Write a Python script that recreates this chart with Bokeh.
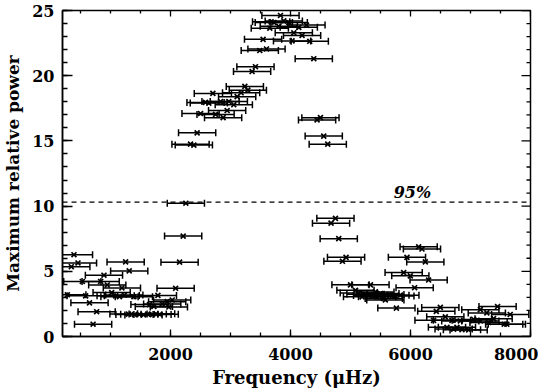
import numpy as np
from bokeh.plotting import figure
from bokeh.models import (ColumnDataSource, Whisker, TeeHead, Span, Label,
                          SingleIntervalTicker, Range1d)
from bokeh.embed import file_html
from bokeh.resources import INLINE

# ---- data ----
# low-frequency branch
freq_a = [391, 458, 347, 1252, 1312, 891, 530, 836, 946, 1190, 280, 586, 1019, 1086,
          1150, 1230, 1390, 1790, 2085, 2028, 1945, 650, 1862, 1723, 1973, 1650, 769,
          710, 2151, 2211, 2256, 1300, 1400, 1480, 1550, 1620, 1700, 1760, 1820]
power_a = [6.27, 5.64, 5.35, 5.72, 5.03, 4.70, 4.22, 4.22, 3.95, 3.72, 3.20, 3.12, 3.37, 3.12,
           3.05, 3.18, 3.05, 3.15, 3.70, 2.80, 2.67, 2.58, 2.50, 2.30, 2.26, 2.45, 1.90,
           0.94, 5.70, 7.70, 10.22, 1.72, 1.68, 1.70, 1.65, 1.72, 1.68, 1.74, 1.70]
err_a = [310] * len(freq_a)

# high-power branch
freq_b = [3833, 3677, 3722, 3888, 3971, 4266, 3655, 3805, 4138, 4055, 4193, 3543, 4026, 4321,
          4388, 3488, 3600, 3416, 3360, 3239, 3289, 2706, 3177, 3111, 2584, 2639, 2834, 2972,
          3055, 2501, 2751, 2944, 2877, 2444, 2334, 2389, 4499, 4443, 4554, 4621]
power_b = [24.62, 24.13, 24.08, 24.20, 24.08, 23.88, 23.64, 23.79, 23.71, 23.29, 23.09, 22.79,
           22.67, 22.64, 21.30, 21.93, 22.05, 20.69, 20.32, 19.18, 18.89, 18.64, 18.69, 18.39,
           17.95, 17.90, 18.02, 18.02, 17.77, 17.10, 17.03, 17.33, 16.78, 15.62, 14.75, 14.68,
           16.78, 16.61, 15.37, 14.75]
err_b = [310] * len(freq_b)

# middle branch
freq_c = [4749, 4676, 4804, 4926, 4866, 5000, 5333, 5083, 5138, 5250, 5360, 5443, 5193, 5555,
          5415, 5498, 5581, 5665, 5748, 5831, 5581, 6136, 6191, 5941, 6247, 5886, 5997, 6302,
          6069, 5765]
power_c = [9.06, 8.69, 7.50, 6.07, 5.77, 3.96, 3.96, 3.54, 3.34, 3.24, 3.15, 3.04, 3.04, 2.92,
           3.42, 3.30, 3.22, 3.17, 3.10, 3.17, 2.80, 6.88, 6.71, 6.07, 5.72, 4.90, 4.65, 4.33,
           3.74, 2.18]
err_c = [310] * len(freq_c)

# high-frequency branch
freq_d = [6497, 6430, 7164, 7451, 7272, 7662, 6384, 6580, 6691, 6830, 7052, 7164, 7385, 7301,
          7606, 7562, 6608, 6719, 6858, 6969, 6774]
power_d = [2.23, 1.93, 2.06, 2.30, 1.81, 1.69, 1.24, 1.51, 1.24, 1.19, 1.31, 1.19, 1.37, 1.07,
           0.94, 0.94, 0.70, 0.57, 0.52, 0.50, 0.70]
err_d = [310] * len(freq_d)

threshold = 10.3
threshold_text = "95%"
threshold_text_freq = 5720

x_start, x_end = 200, 8000
y_start, y_end = 0, 25
x_major, x_minor = 2000, 500
y_major, y_minor = 5, 1

# ---- build table ----
freq = np.array(freq_a + freq_b + freq_c + freq_d, dtype=float)
power = np.array(power_a + power_b + power_c + power_d, dtype=float)
err = np.array(err_a + err_b + err_c + err_d, dtype=float)
src = ColumnDataSource(dict(x=freq, y=power, lo=freq - err, hi=freq + err))

FONT = "DejaVu Serif"

p = figure(frame_width=468, frame_height=326, output_backend="svg", toolbar_location=None,
           x_range=Range1d(x_start, x_end), y_range=Range1d(y_start, y_end),
           min_border_left=50, min_border_right=8, min_border_top=10, min_border_bottom=50,
           background_fill_color="white", border_fill_color="white")
p.grid.visible = False
p.outline_line_color = "black"
p.outline_line_width = 1.5

xt = SingleIntervalTicker(interval=x_major, num_minor_ticks=x_major // x_minor)
yt = SingleIntervalTicker(interval=y_major, num_minor_ticks=y_major // y_minor)

xa = p.xaxis[0]
xa.ticker = xt
xa.axis_label = "Frequency (\u03bcHz)"
ya = p.yaxis[0]
ya.ticker = yt
ya.axis_label = "Maximum relative power"

for ax, maj, mnr in ((xa, 7, 4), (ya, 10, 5)):
    ax.major_tick_in = maj
    ax.major_tick_out = 0
    ax.minor_tick_in = mnr
    ax.minor_tick_out = 0
    ax.major_tick_line_width = 1.3
    ax.minor_tick_line_width = 1.3
    ax.axis_line_width = 1.5
    ax.major_label_text_font = FONT
    ax.major_label_text_font_style = "bold"
    ax.major_label_text_font_size = "16px"
    ax.major_label_text_color = "black"
    ax.axis_label_text_font = FONT
    ax.axis_label_text_font_style = "bold"
    ax.axis_label_text_color = "black"
xa.axis_label_text_font_size = "18px"
ya.axis_label_text_font_size = "17px"
xa.major_label_standoff = 11
xa.axis_label_standoff = 4
ya.major_label_standoff = 8
ya.axis_label_standoff = 6

# mirrored ticks on the top and right frame edges
top_major = np.arange(x_major, x_end + 1, x_major)
top_minor = np.setdiff1d(np.arange(x_minor, x_end + 1, x_minor), top_major)
right_major = np.arange(y_start, y_end + 1, y_major)
right_minor = np.setdiff1d(np.arange(y_start, y_end + 1, y_minor), right_major)
tick_kw = dict(line_color="black", line_width=1.3, length_units="screen")
p.ray(x=top_major, y=y_end, length=6, angle=-np.pi / 2, **tick_kw)
p.ray(x=top_minor, y=y_end, length=3, angle=-np.pi / 2, **tick_kw)
p.ray(x=x_end, y=right_major, length=9, angle=np.pi, **tick_kw)
p.ray(x=x_end, y=right_minor, length=4, angle=np.pi, **tick_kw)

# error bars
wh = Whisker(source=src, base="y", lower="lo", upper="hi", dimension="width",
             line_color="black", line_width=1.5,
             upper_head=TeeHead(size=7, line_color="black", line_width=1.5),
             lower_head=TeeHead(size=7, line_color="black", line_width=1.5))
p.add_layout(wh)

p.scatter("x", "y", source=src, marker="x", size=7, line_width=1.7, line_color="black")

p.add_layout(Span(location=threshold, dimension="width", line_color="black",
                  line_width=1.2, line_dash="5 4"))
p.add_layout(Label(x=threshold_text_freq, y=threshold, text=threshold_text,
                   text_font=FONT, text_font_style="bold italic", text_font_size="16px",
                   text_color="black", text_baseline="bottom", y_offset=0))

open("out.html", "w").write(file_html(p, INLINE))
